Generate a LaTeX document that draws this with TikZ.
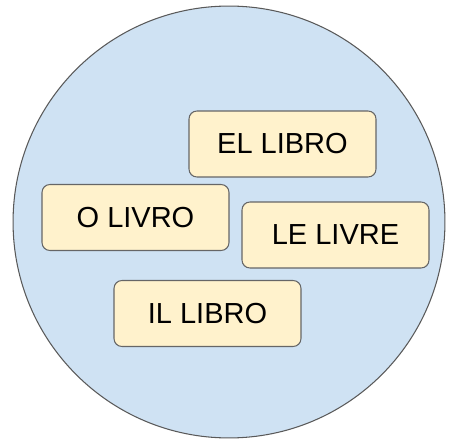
\documentclass[tikz,border=0pt]{standalone}
\usepackage{fontspec}
\setmainfont{Liberation Sans}
\definecolor{discblue}{HTML}{CFE2F3}
\definecolor{cardyellow}{HTML}{FFF2CC}
\tikzset{word/.style={draw=black!60, line width=0.6pt, fill=cardyellow, rounded corners=4.5pt,
    minimum width=3.74cm, minimum height=1.32cm, inner sep=0pt,
    font=\fontsize{16.5}{20}\selectfont}}

\begin{document}
\begin{tikzpicture}[x=0.02cm,y=-0.02cm]
	%%%%% START %%%%%
	\useasboundingbox (0,0) rectangle (450,439);
	\draw[draw=black!65, line width=0.6pt, fill=discblue] (229,222) circle (4.32cm);
	
	\node[word] (ellibro) at (282.5,144) {EL LIBRO};
	\node[word] (olivro) at (135.5,217.5) {O LIVRO};
	\node[word] (lelivre) at (335.5,235) {LE LIVRE};
	\node[word] (illibro) at (207.5,313.5) {IL LIBRO};
	%%%%% END %%%%%
\end{tikzpicture}
\end{document}
